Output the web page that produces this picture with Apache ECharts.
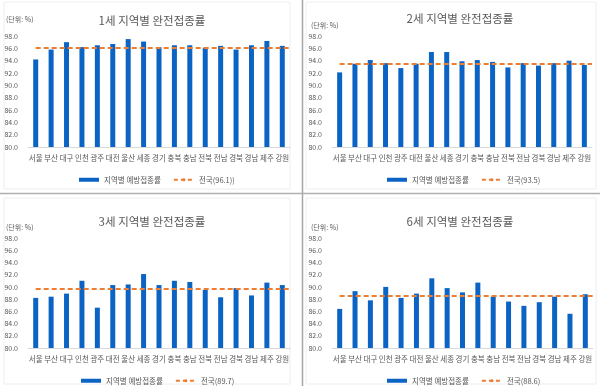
<!DOCTYPE html>
<html>
<head>
<meta charset="utf-8">
<script src="https://cdn.jsdelivr.net/npm/echarts@6/dist/echarts.min.js"></script>
<style>
html,body{margin:0;padding:0;background:#fff;}
#c{width:600px;height:386px;}
</style>
</head>
<body>
<div id="c"></div>
<script>
const regions = ['서울','부산','대구','인천','광주','대전','울산','세종','경기','충북','충남','전북','전남','경북','경남','제주','강원'];
const age1 = [94.2,95.8,97.0,96.2,96.5,96.7,97.5,97.1,96.2,96.5,96.5,96.1,96.4,95.8,96.5,97.2,96.4];
const age2 = [92.1,93.5,94.1,93.6,92.8,93.5,95.4,95.4,93.9,94.1,93.8,92.9,93.6,93.2,93.6,94.0,93.3];
const age3 = [88.2,88.4,88.9,91.0,86.6,90.3,90.4,92.1,90.3,91.0,90.8,89.5,88.3,89.8,88.6,90.7,90.3];
const age6 = [86.4,89.3,87.8,90.0,88.2,88.9,91.4,89.8,89.1,90.7,88.4,87.6,86.9,87.5,88.4,85.6,88.8];
const national = [96.1, 93.5, 89.7, 88.6];
const titles = ['1세 지역별 완전접종률','2세 지역별 완전접종률','3세 지역별 완전접종률','6세 지역별 완전접종률'];
const nationalNames = ['전국(96.1))','전국(93.5)','전국(89.7)','전국(88.6)'];
const barName = '지역별 예방접종률';
const unitLabel = '(단위: %)';
const yMin = 80, yMax = 98, yStep = 2;

const FONT = '"Noto Sans CJK KR","Noto Sans",sans-serif';
const values = [age1, age2, age3, age6];
const panels = [
  {left:28, top:36, width:262, height:111, titleX:147, titleY:10, unitX:6, unitY:16, legX:74, legY:171},
  {left:332, top:36, width:260, height:111, titleX:455, titleY:8, unitX:311, unitY:22, legX:382, legY:171},
  {left:28, top:238, width:262, height:110, titleX:147, titleY:211, unitX:6, unitY:224, legX:76, legY:372},
  {left:332, top:238, width:261, height:110, titleX:455, titleY:211, unitX:311, unitY:224, legX:382, legY:372}
];
const textColor = '#595959';

const chart = echarts.init(document.getElementById('c'), null, {renderer:'canvas'});
const option = {
  backgroundColor:'#fff',
  animation:false,
  title: panels.map((p,i)=>({
    text: titles[i], left: p.titleX, top: p.titleY, textAlign:'center',
    textStyle:{fontFamily:FONT, fontSize:11.5, fontWeight:'normal', color:textColor}
  })),
  grid: panels.map(p=>({left:p.left, top:p.top, width:p.width, height:p.height, containLabel:false})),
  xAxis: panels.map((p,i)=>({
    type:'category', gridIndex:i, data:regions,
    axisTick:{show:false},
    axisLine:{lineStyle:{color:'#d9d9d9'}},
    axisLabel:{interval:0, fontFamily:FONT, fontSize:7.5, color:textColor, margin:7}
  })),
  yAxis: panels.map((p,i)=>({
    type:'value', gridIndex:i, min:yMin, max:yMax, interval:yStep,
    splitLine:{show:false}, axisLine:{show:false}, axisTick:{show:false},
    axisLabel:{fontFamily:FONT, fontSize:7, color:textColor, margin:10, formatter:v=>v.toFixed(1)}
  })),
  legend: panels.map((p,i)=>({
    left:p.legX, top:p.legY, itemWidth:20, itemHeight:4, itemGap:12,
    textStyle:{fontFamily:FONT, fontSize:7.5, color:textColor},
    data:[{name:barName, icon:'rect'}, {name:nationalNames[i]}]
  })),
  series: panels.flatMap((p,i)=>[
    {type:'bar', name:barName, xAxisIndex:i, yAxisIndex:i, data:values[i], barWidth:5,
     itemStyle:{color:'#0B63C4'}},
    {type:'line', name:nationalNames[i], xAxisIndex:i, yAxisIndex:i, data:[], symbol:'none',
     lineStyle:{type:[4,3], color:'#ED7D31', width:2}, itemStyle:{color:'#ED7D31'},
     markLine:{silent:true, symbol:'none', label:{show:false},
       lineStyle:{type:[5,3], color:'#ED7D31', width:2},
       data:[[{xAxis:0, yAxis:national[i]}, {x:p.left+p.width, yAxis:national[i]}]]}}
  ]),
  graphic: [
    ...panels.map(p=>({type:'text', left:p.unitX, top:p.unitY,
      style:{text:unitLabel, font:'7px '+FONT, fill:textColor}})),
    {type:'rect', shape:{x:4,y:2,width:286,height:187}, style:{fill:'none', stroke:'#eeeeee', lineWidth:1}, z:-1},
    {type:'rect', shape:{x:306,y:2,width:290,height:187}, style:{fill:'none', stroke:'#eeeeee', lineWidth:1}, z:-1},
    {type:'rect', shape:{x:4,y:198,width:286,height:186}, style:{fill:'none', stroke:'#eeeeee', lineWidth:1}, z:-1},
    {type:'rect', shape:{x:306,y:198,width:290,height:186}, style:{fill:'none', stroke:'#eeeeee', lineWidth:1}, z:-1},
    {type:'line', shape:{x1:302.5,y1:0,x2:302.5,y2:386}, style:{stroke:'#a6a6a6', lineWidth:1.5}},
    {type:'line', shape:{x1:0,y1:193.5,x2:600,y2:193.5}, style:{stroke:'#b0b0b0', lineWidth:1.5}}
  ]
};
chart.setOption(option);
</script>
</body>
</html>
